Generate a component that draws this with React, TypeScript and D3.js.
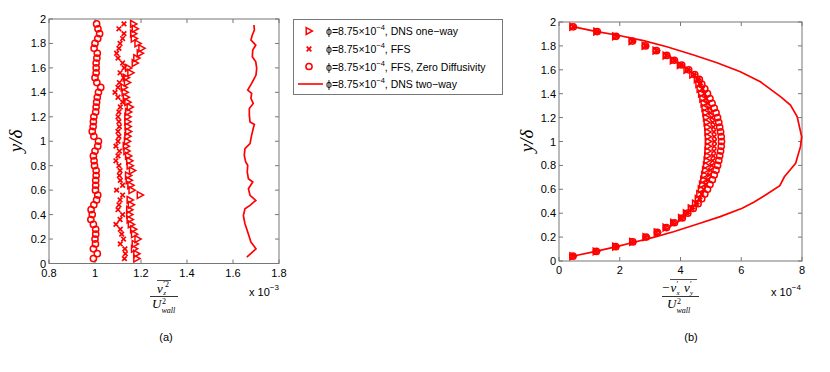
import React from "react";
import * as d3 from "d3";

// wall-normal positions of the marker data (y/delta)
const yGrid = [
  0.04, 0.08, 0.12, 0.16, 0.2, 0.24, 0.28, 0.32, 0.36, 0.4, 0.44, 0.48, 0.52,
  0.56, 0.6, 0.64, 0.68, 0.72, 0.76, 0.8, 0.84, 0.88, 0.92, 0.96, 1.0, 1.04,
  1.08, 1.12, 1.16, 1.2, 1.24, 1.28, 1.32, 1.36, 1.4, 1.44, 1.48, 1.52, 1.56,
  1.6, 1.64, 1.68, 1.72, 1.76, 1.8, 1.84, 1.88, 1.92, 1.96,
];

// (a) wall-normal velocity variance, x 1e-3
const oneWayA = [
  1.181, 1.181, 1.171, 1.174, 1.186, 1.171, 1.167, 1.157, 1.152, 1.15, 1.15,
  1.157, 1.152, 1.196, 1.16, 1.155, 1.148, 1.145, 1.162, 1.152, 1.15, 1.145,
  1.138, 1.135, 1.14, 1.142, 1.145, 1.143, 1.142, 1.142, 1.145, 1.152, 1.142,
  1.135, 1.13, 1.126, 1.14, 1.135, 1.155, 1.145, 1.174, 1.181, 1.196, 1.203,
  1.186, 1.17, 1.167, 1.174, 1.167,
];
const ffsA = [
  1.128, 1.132, 1.13, 1.11, 1.124, 1.116, 1.11, 1.091, 1.109, 1.12, 1.1,
  1.104, 1.109, 1.12, 1.094, 1.12, 1.11, 1.106, 1.109, 1.104, 1.091, 1.1,
  1.106, 1.091, 1.1, 1.104, 1.1, 1.106, 1.104, 1.1, 1.104, 1.11, 1.12, 1.1,
  1.087, 1.1, 1.106, 1.124, 1.109, 1.127, 1.12, 1.1, 1.094, 1.104, 1.109,
  1.12, 1.126, 1.104, 1.126,
];
const zeroDiffA = [
  0.993, 1.01, 0.993, 1.002, 1.0, 1.003, 1.003, 0.993, 0.982, 0.988, 0.983,
  0.995, 1.007, 1.012, 1.002, 1.003, 1.003, 1.005, 1.005, 0.998, 0.996, 0.993,
  1.0, 1.012, 1.015, 0.995, 0.988, 0.992, 0.993, 0.995, 1.003, 1.005, 1.007,
  1.01, 1.015, 1.025, 1.008, 1.0, 1.005, 1.005, 1.005, 1.008, 1.01, 0.996,
  1.0, 1.012, 1.02, 1.013, 1.007,
];
const twoWayAy = [
  0.052, 0.12, 0.175, 0.257, 0.325, 0.393, 0.448, 0.475, 0.516, 0.557, 0.612,
  0.667, 0.694, 0.748, 0.803, 0.83, 0.885, 0.94, 0.981, 1.05, 1.104, 1.137,
  1.158, 1.213, 1.268, 1.309, 1.35, 1.391, 1.418, 1.473, 1.541, 1.596, 1.65,
  1.691, 1.746, 1.787, 1.828, 1.869, 1.91, 1.951,
];
const twoWayAx = [
  1.66, 1.7, 1.678, 1.664, 1.652, 1.645, 1.652, 1.674, 1.699, 1.674, 1.667,
  1.686, 1.667, 1.662, 1.664, 1.655, 1.649, 1.652, 1.674, 1.681, 1.688, 1.693,
  1.674, 1.671, 1.671, 1.688, 1.678, 1.681, 1.664, 1.681, 1.7, 1.703, 1.699,
  1.684, 1.686, 1.699, 1.678, 1.684, 1.693, 1.691,
];

// (b) Reynolds shear stress, x 1e-4
const oneWayB = [
  0.45, 1.22, 1.86, 2.42, 2.86, 3.23, 3.52, 3.77, 4.03, 4.19, 4.35, 4.49,
  4.58, 4.63, 4.68, 4.72, 4.76, 4.79, 4.82, 4.85, 4.87, 4.89, 4.9, 4.91, 4.92,
  4.91, 4.9, 4.89, 4.87, 4.85, 4.83, 4.8, 4.77, 4.73, 4.69, 4.64, 4.6, 4.55,
  4.4, 4.21, 3.99, 3.76, 3.52, 3.19, 2.83, 2.4, 1.86, 1.24, 0.45,
];
const ffsB = [
  0.44, 1.2, 1.84, 2.4, 2.84, 3.21, 3.5, 3.76, 4.02, 4.2, 4.37, 4.52, 4.62,
  4.7, 4.77, 4.84, 4.9, 4.95, 4.99, 5.03, 5.06, 5.08, 5.1, 5.11, 5.12, 5.11,
  5.1, 5.08, 5.06, 5.03, 4.99, 4.95, 4.9, 4.85, 4.79, 4.72, 4.64, 4.58, 4.44,
  4.24, 4.01, 3.78, 3.53, 3.2, 2.84, 2.41, 1.87, 1.25, 0.46,
];
const zeroDiffB = [
  0.46, 1.23, 1.87, 2.43, 2.87, 3.24, 3.54, 3.8, 4.06, 4.24, 4.42, 4.58, 4.7,
  4.8, 4.89, 4.97, 5.05, 5.11, 5.17, 5.22, 5.26, 5.29, 5.32, 5.34, 5.35, 5.34,
  5.32, 5.29, 5.26, 5.22, 5.17, 5.11, 5.04, 4.97, 4.89, 4.8, 4.7, 4.62, 4.47,
  4.27, 4.04, 3.8, 3.55, 3.21, 2.85, 2.42, 1.88, 1.26, 0.47,
];
const twoWayBy = [
  0.04, 0.083, 0.12, 0.153, 0.198, 0.245, 0.307, 0.371, 0.441, 0.491, 0.561,
  0.63, 0.705, 0.76, 0.818, 0.957, 1.04, 1.208, 1.305, 1.375, 1.5, 1.584,
  1.659, 1.724, 1.793, 1.844, 1.891, 1.919, 1.961,
];
const twoWayBx = [
  0.45, 1.24, 1.9, 2.4, 3.11, 3.77, 4.54, 5.31, 6.03, 6.41, 6.85, 7.27, 7.42,
  7.6, 7.79, 7.95, 7.99, 7.84, 7.62, 7.29, 6.63, 5.97, 5.2, 4.43, 3.55, 2.78,
  1.9, 1.24, 0.45,
];

const xTicksA = [0.8, 1, 1.2, 1.4, 1.6, 1.8];
const xTicksB = [0, 2, 4, 6, 8];
const yTicks = [0, 0.2, 0.4, 0.6, 0.8, 1, 1.2, 1.4, 1.6, 1.8, 2];
const legendLabels = [
  "DNS one\u2212way",
  "FFS",
  "FFS, Zero Diffusivity",
  "DNS two\u2212way",
];

const RED = "#ff0000";
const AXIS = "#777";
const SANS = "'Liberation Sans', Arial, Helvetica, sans-serif";
const SERIF = "'Liberation Serif', 'Times New Roman', serif";

const Tri = ({ x, y }) => (
  <path
    d={`M${x - 2.8},${y - 3.4}L${x + 3.4},${y}L${x - 2.8},${y + 3.4}Z`}
    fill="none"
    stroke={RED}
    strokeWidth={1.5}
  />
);
const Cross = ({ x, y }) => (
  <path
    d={`M${x - 2.3},${y - 2.3}L${x + 2.3},${y + 2.3}M${x - 2.3},${y + 2.3}L${x + 2.3},${y - 2.3}`}
    stroke={RED}
    strokeWidth={1.7}
  />
);
const Circ = ({ x, y }) => (
  <circle cx={x} cy={y} r={3.1} fill="none" stroke={RED} strokeWidth={1.5} />
);

const Panel = ({ x0, x1, y0, y1, xDomain, xTicks, oneWay, ffs, zeroDiff, lineX, lineY }) => {
  const x = d3.scaleLinear().domain(xDomain).range([x0, x1]);
  const y = d3.scaleLinear().domain([0, 2]).range([y1, y0]);
  const line = d3
    .line<number>()
    .x((d) => x(lineX[d]))
    .y((d) => y(lineY[d]));
  const tick = 4;
  return (
    <g>
      <rect x={x0} y={y0} width={x1 - x0} height={y1 - y0} fill="white" stroke={AXIS} strokeWidth={1} />
      {xTicks.map((t) => (
        <g key={"x" + t}>
          <line x1={x(t)} x2={x(t)} y1={y1} y2={y1 - tick} stroke={AXIS} />
          <line x1={x(t)} x2={x(t)} y1={y0} y2={y0 + tick} stroke={AXIS} />
          <text x={x(t)} y={y1 + 13} textAnchor="middle" fontSize={11} fontFamily={SANS}>
            {t}
          </text>
        </g>
      ))}
      {yTicks.map((t) => (
        <g key={"y" + t}>
          <line x1={x0} x2={x0 + tick} y1={y(t)} y2={y(t)} stroke={AXIS} />
          <line x1={x1} x2={x1 - tick} y1={y(t)} y2={y(t)} stroke={AXIS} />
          <text x={x0 - 3} y={y(t) + 4} textAnchor="end" fontSize={11} fontFamily={SANS}>
            {t}
          </text>
        </g>
      ))}
      <path d={line(d3.range(lineX.length)) || ""} fill="none" stroke={RED} strokeWidth={1.7} />
      {yGrid.map((v, i) => (
        <Tri key={"t" + i} x={x(oneWay[i])} y={y(v)} />
      ))}
      {yGrid.map((v, i) => (
        <Cross key={"c" + i} x={x(ffs[i])} y={y(v)} />
      ))}
      {yGrid.map((v, i) => (
        <Circ key={"o" + i} x={x(zeroDiff[i])} y={y(v)} />
      ))}
    </g>
  );
};

const YLabel = ({ cx, cy }) => (
  <text
    transform={`translate(${cx},${cy}) rotate(-90)`}
    textAnchor="middle"
    fontFamily={SERIF}
    fontStyle="italic"
    fontSize={19}
  >
    y/δ
  </text>
);

// separate text pieces so that sub/superscripts do not collide
const M = ({ x, y, size, children, italic = true }) => (
  <text x={x} y={y} fontFamily={SERIF} fontStyle={italic ? "italic" : "normal"} fontSize={size}>
    {children}
  </text>
);

const Denominator = ({ x }) => (
  <g>
    <M x={x} y={307.5} size={13}>U</M>
    <M x={x + 10} y={303.8} size={8} italic={false}>2</M>
    <M x={x + 9.5} y={313.2} size={8}>wall</M>
  </g>
);

const Scale = ({ x, y, exp }) => (
  <text x={x} y={y} fontFamily={SANS} fontSize={11}>
    x 10
    <tspan fontSize={8} dy={-6}>{exp}</tspan>
  </text>
);

const Legend = () => {
  const rows = [31, 49, 66.5, 84];
  return (
    <g>
      <rect x={293.5} y={19.5} width={209} height={75} fill="white" stroke={AXIS} />
      <Tri x={309} y={rows[0]} />
      <Cross x={309} y={rows[1]} />
      <Circ x={309} y={rows[2]} />
      <line x1={298} x2={323} y1={rows[3]} y2={rows[3]} stroke={RED} strokeWidth={1.6} />
      {legendLabels.map((lab, i) => (
        <text key={lab} x={326} y={rows[i] + 4} fontFamily={SANS} fontSize={10.5}>
          ϕ=8.75×10
          <tspan fontSize={7.5} dy={-5}>−4</tspan>
          <tspan dy={5}>, {lab}</tspan>
        </text>
      ))}
    </g>
  );
};

export default function App() {
  return (
    <svg
      width={830}
      height={372}
      style={{ position: "absolute", left: 0, top: 0, background: "white" }}
    >
      <Panel
        x0={49}
        x1={279}
        y0={19}
        y1={263.5}
        xDomain={[0.8, 1.8]}
        xTicks={xTicksA}
        oneWay={oneWayA}
        ffs={ffsA}
        zeroDiff={zeroDiffA}
        lineX={twoWayAx}
        lineY={twoWayAy}
      />
      <Panel
        x0={559}
        x1={802}
        y0={22}
        y1={261}
        xDomain={[0, 8]}
        xTicks={xTicksB}
        oneWay={oneWayB}
        ffs={ffsB}
        zeroDiff={zeroDiffB}
        lineX={twoWayBx}
        lineY={twoWayBy}
      />
      <Legend />
      <YLabel cx={22} cy={141} />
      <YLabel cx={533} cy={141} />

      {/* (a) x label: overline v'^2_z / U^2_wall */}
      <M x={157} y={293} size={13}>v</M>
      <M x={163.2} y={287} size={8} italic={false}>′2</M>
      <M x={163.2} y={295} size={7}>z</M>
      <line x1={157} x2={171} y1={280.5} y2={280.5} stroke="black" strokeWidth={0.7} />
      <line x1={150} x2={178} y1={296.5} y2={296.5} stroke="black" strokeWidth={0.8} />
      <Denominator x={152} />
      <Scale x={249} y={295.5} exp="−3" />
      <text x={166} y={340.5} textAnchor="middle" fontFamily={SANS} fontSize={11}>
        (a)
      </text>

      {/* (b) x label: -overline(v'_x v'_y) / U^2_wall */}
      <M x={662} y={292} size={13} italic={false}>−</M>
      <M x={670.5} y={292} size={13}>v</M>
      <M x={676.5} y={287} size={8} italic={false}>′</M>
      <M x={676.5} y={295} size={7}>x</M>
      <M x={684} y={292} size={13}>v</M>
      <M x={690} y={287} size={8} italic={false}>′</M>
      <M x={690} y={295} size={7}>y</M>
      <line x1={670} x2={697} y1={279.5} y2={279.5} stroke="black" strokeWidth={0.7} />
      <line x1={662} x2={699} y1={296.5} y2={296.5} stroke="black" strokeWidth={0.8} />
      <Denominator x={667} />
      <Scale x={771} y={295.5} exp="−4" />
      <text x={691} y={340.5} textAnchor="middle" fontFamily={SANS} fontSize={11}>
        (b)
      </text>
    </svg>
  );
}
